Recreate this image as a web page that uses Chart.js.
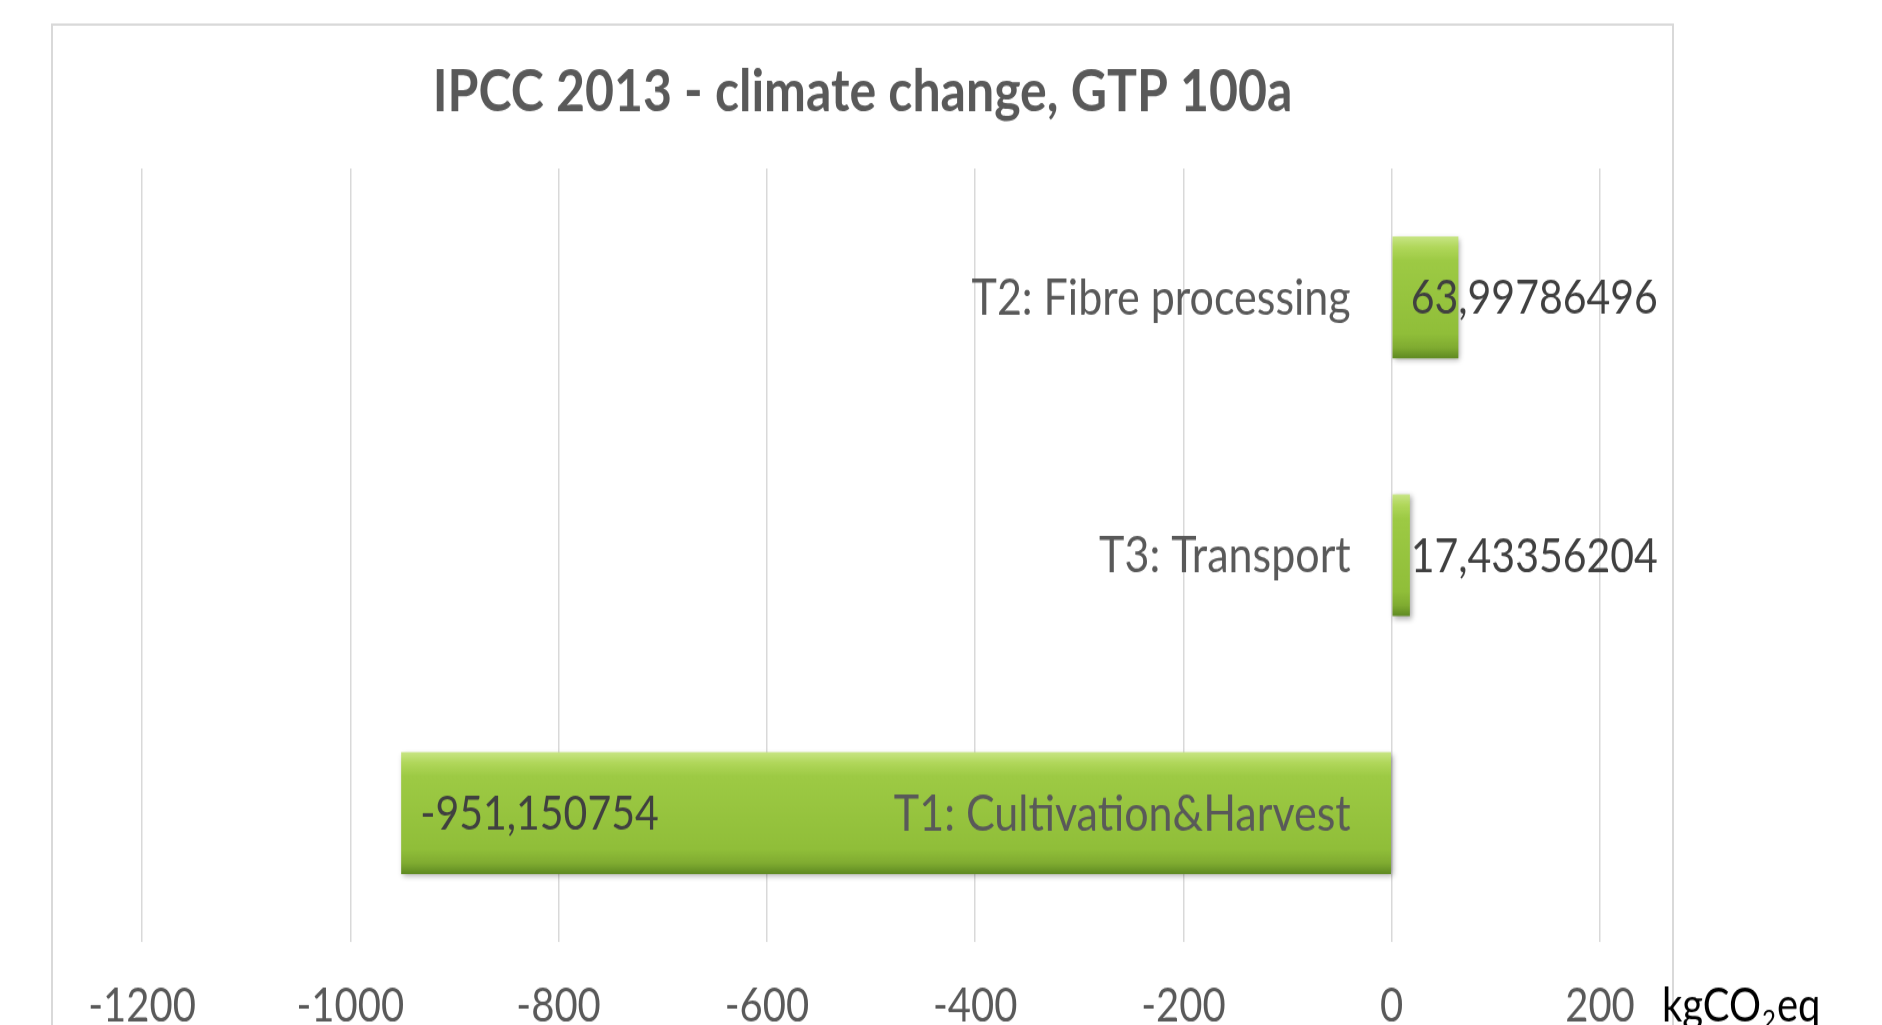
<!DOCTYPE html>
<html>
<head>
<meta charset="utf-8">
<title>IPCC 2013 - climate change, GTP 100a</title>
<script src="https://cdn.jsdelivr.net/npm/chart.js@4/dist/chart.umd.min.js"></script>
<style>
  html, body { margin: 0; padding: 0; background: #ffffff; overflow: hidden; }
  /* The drawing buffer is shorter than the box, giving the tall, narrow lettering of the original figure */
  #chart { display: block; width: 1882px; height: 1025px; }
</style>
</head>
<body>
<canvas id="chart" width="1882" height="876" style="width:1882px;height:1025px"></canvas>
<script>
// Life-cycle stages, listed top to bottom as they appear on the chart
const categories = ['T2: Fibre processing', 'T3: Transport', 'T1: Cultivation&Harvest'];
// Climate change impact per stage (kg CO2-eq, GTP 100a)
const emissions = [63.99786496, 17.43356204, -951.150754];
// Value axis range and step
const axisMin = -1200;
const axisMax = 200;
const axisStep = 200;

const FONT = "Lato, 'Open Sans', sans-serif";
const BAR_SHARE = 0.473;

// Excel-style bevelled green fill, built per bar from the category scale
function barFill(ctx) {
  const chart = ctx.chart;
  const ys = chart.scales && chart.scales.y;
  if (!chart.chartArea || !ys || ctx.dataIndex == null) return '#94c23d';
  const center = ys.getPixelForValue(ctx.dataIndex);
  const half = (ys.height / categories.length) * BAR_SHARE / 2;
  const top = center - half;
  const bottom = center + half;
  const g = chart.ctx.createLinearGradient(0, top, 0, bottom);
  g.addColorStop(0.00, '#c8e585');
  g.addColorStop(0.09, '#b0d75a');
  g.addColorStop(0.20, '#9dca44');
  g.addColorStop(0.80, '#90be39');
  g.addColorStop(0.91, '#80ac31');
  g.addColorStop(1.00, '#5f8a22');
  return g;
}

// Light frame around the chart
const framePlugin = {
  id: 'frame',
  beforeDraw(chart) {
    const c = chart.ctx;
    c.save();
    c.strokeStyle = '#d9d9d9';
    c.lineWidth = 2;
    c.strokeRect(52, 21, 1621, 1000);
    c.restore();
  }
};

// Soft drop shadow under the bars
const shadowPlugin = {
  id: 'barShadow',
  beforeDatasetsDraw(chart) {
    const c = chart.ctx;
    c.save();
    c.shadowColor = 'rgba(0,0,0,0.32)';
    c.shadowBlur = 5;
    c.shadowOffsetX = 2;
    c.shadowOffsetY = 2;
  },
  afterDatasetsDraw(chart) {
    chart.ctx.restore();
  }
};

// Category names next to the zero line, and the value of each bar
const barTextPlugin = {
  id: 'barText',
  afterDatasetsDraw(chart) {
    const c = chart.ctx;
    const xs = chart.scales.x;
    const ys = chart.scales.y;
    const zero = xs.getPixelForValue(0);
    c.save();
    c.textBaseline = 'middle';

    c.font = '43px ' + FONT;
    c.fillStyle = '#595959';
    c.textAlign = 'right';
    categories.forEach((name, i) => {
      c.fillText(name, zero - 41, ys.getPixelForValue(i) + 1);
    });

    c.font = '41px ' + FONT;
    c.fillStyle = '#404040';
    c.textAlign = 'left';
    emissions.forEach((v, i) => {
      const start = xs.getPixelForValue(Math.min(v, 0)) + 19;
      c.fillText(String(v).replace('.', ','), start, ys.getPixelForValue(i) + 1);
    });
    c.restore();
  }
};

// Unit label after the last tick
const unitPlugin = {
  id: 'unitLabel',
  afterDraw(chart) {
    const c = chart.ctx;
    const xs = chart.scales.x;
    const y = xs.top + 35 + 20;
    c.save();
    c.fillStyle = '#000000';
    c.textBaseline = 'middle';
    c.textAlign = 'left';
    c.font = '40px ' + FONT;
    let x = 1662;
    c.fillText('kgCO', x, y);
    x += c.measureText('kgCO').width;
    c.font = '24px ' + FONT;
    c.fillText('2', x + 1, y + 12);
    x += c.measureText('2').width + 2;
    c.font = '40px ' + FONT;
    c.fillText('eq', x, y);
    c.restore();
  }
};

new Chart(document.getElementById('chart'), {
  type: 'bar',
  data: {
    labels: categories,
    datasets: [{
      data: emissions,
      backgroundColor: barFill,
      borderWidth: 0,
      categoryPercentage: 1,
      barPercentage: BAR_SHARE
    }]
  },
  options: {
    indexAxis: 'y',
    responsive: false,
    animation: false,
    events: [],
    layout: { padding: { left: 52, right: 209, top: 21, bottom: 0 } },
    plugins: {
      legend: { display: false },
      tooltip: { enabled: false },
      title: {
        display: true,
        text: 'IPCC 2013 - climate change, GTP 100a',
        color: '#595959',
        font: { family: FONT, size: 50, weight: 'bold', lineHeight: 1.2 },
        padding: { top: 28, bottom: 35 }
      }
    },
    scales: {
      x: {
        type: 'linear',
        min: axisMin,
        max: axisMax,
        afterFit(scale) {
          scale.paddingLeft = 142;
          scale.paddingRight = 282;
          scale.height = 71;
        },
        ticks: {
          stepSize: axisStep,
          color: '#595959',
          padding: 35,
          font: { family: FONT, size: 40, lineHeight: 1 },
          callback: (v) => String(v)
        },
        grid: { color: '#d9d9d9', lineWidth: 1.5, drawTicks: false },
        border: { display: false }
      },
      y: {
        type: 'category',
        display: false,
        position: { x: 0 }
      }
    }
  },
  plugins: [framePlugin, shadowPlugin, barTextPlugin, unitPlugin]
});
</script>
</body>
</html>
